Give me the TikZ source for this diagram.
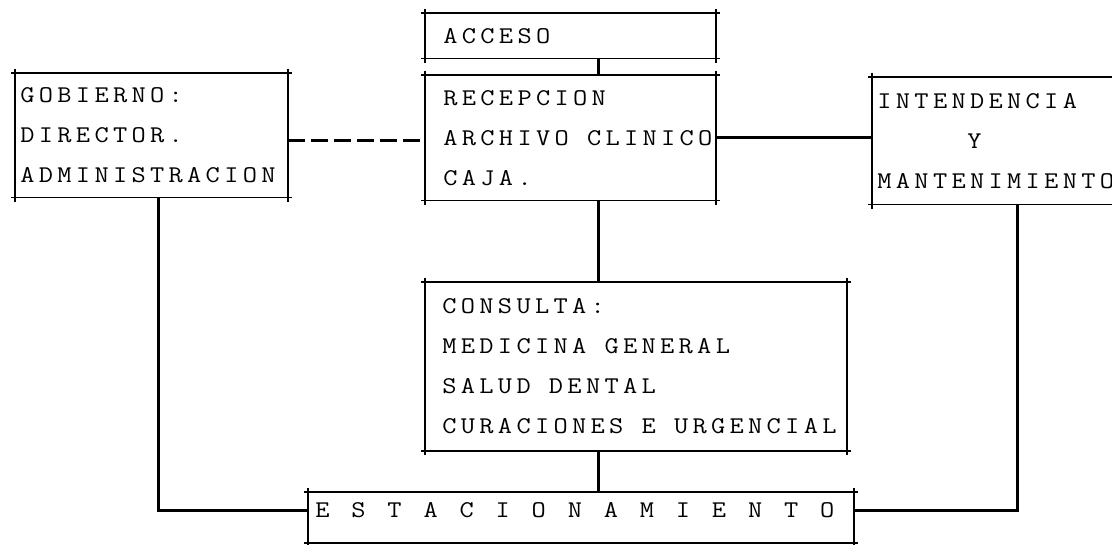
\documentclass[tikz,border=0pt]{standalone}
\usepackage{fontspec}
\newfontfamily\maquina[FakeStretch=1.15, LetterSpace=18]{Latin Modern Mono}
\newfontfamily\maquinaancha[FakeStretch=1.15, LetterSpace=91]{Latin Modern Mono}
\newcommand\letramaq{\maquina\fontsize{12pt}{20pt}\selectfont}
\newcommand\esp{\hspace*{9.1pt}}
\begin{document}
\begin{tikzpicture}
[
    x=0.5pt, y=-0.5pt,
    bloque/.style={anchor=north west, align=left, inner ysep=0pt, font=\letramaq},
    borde/.style={line width=0.7pt},
    enlace/.style={line width=1.5pt},
    punteado/.style={line width=1.4pt, dash pattern=on 8.5pt off 3pt}
]
    \useasboundingbox (0,0) rectangle (1112,545);

    \node [bloque, inner xsep=9pt, text width=127pt, minimum height=22.5pt] (acceso) at (425,13)
        {ACCESO};
    \node [bloque, inner xsep=9pt, text width=127pt, minimum height=62.5pt] (recepcion) at (425,75)
        {RECEPCION\\\mbox{ARCHIVO\esp CLINICO}\\CAJA.};
    \node [bloque, inner xsep=2.5pt, text width=131pt, minimum height=62pt] (gobierno) at (15,73)
        {GOBIERNO:\\DIRECTOR.\\\mbox{ADMINISTRACION}};
    \node [bloque, inner xsep=2.5pt, text width=124pt, minimum height=63.5pt] (intendencia) at (872,77)
        {INTENDENCIA\\\hspace*{45pt}Y\\\mbox{MANTENIMIENTO}};
    \node [bloque, inner xsep=8.5pt, text width=193.5pt, minimum height=84pt] (consulta) at (425,282)
        {CONSULTA:\\MEDICINA\esp GENERAL\\SALUD\esp DENTAL\\\mbox{CURACIONES\esp E\esp URGENCIAL}};
    \node [bloque, inner xsep=3.5pt, text width=265.5pt, minimum height=25pt,
        text height=7pt, text depth=7pt,
        font=\maquinaancha\fontsize{12pt}{20pt}\selectfont] (estacionamiento) at (308,492)
        {\mbox{ESTACIONAMIENTO}};

    % bordes con las esquinas pasadas
    \foreach \caja in {acceso, recepcion, gobierno, intendencia, consulta, estacionamiento} {
        \draw [borde] ([xshift=-2pt]\caja.north west) -- ([xshift=2pt]\caja.north east);
        \draw [borde] ([xshift=-2pt]\caja.south west) -- ([xshift=2pt]\caja.south east);
        \draw [borde] ([yshift=2pt]\caja.north west) -- ([yshift=-2pt]\caja.south west);
        \draw [borde] ([yshift=2pt]\caja.north east) -- ([yshift=-2pt]\caja.south east);
    }

    \coordinate (ejec) at (598,0);
    \coordinate (ejei) at (158,0);
    \coordinate (ejed) at (1017,0);

    \draw [enlace] (acceso.south -| ejec) -- (recepcion.north -| ejec);
    \draw [enlace] (recepcion.south -| ejec) -- (consulta.north -| ejec);
    \draw [enlace] (consulta.south -| ejec) -- (estacionamiento.north -| ejec);
    \draw [punteado] ([yshift=-2.5pt]gobierno.east) -- ([yshift=-2.5pt]gobierno.east -| recepcion.west);
    \draw [enlace] (recepcion.east) -- (recepcion.east -| intendencia.west);
    \draw [enlace] (gobierno.south -| ejei) |- ([yshift=3.5pt]estacionamiento.west);
    \draw [enlace] (intendencia.south -| ejed) |- ([yshift=3.5pt]estacionamiento.east);
\end{tikzpicture}
\end{document}
